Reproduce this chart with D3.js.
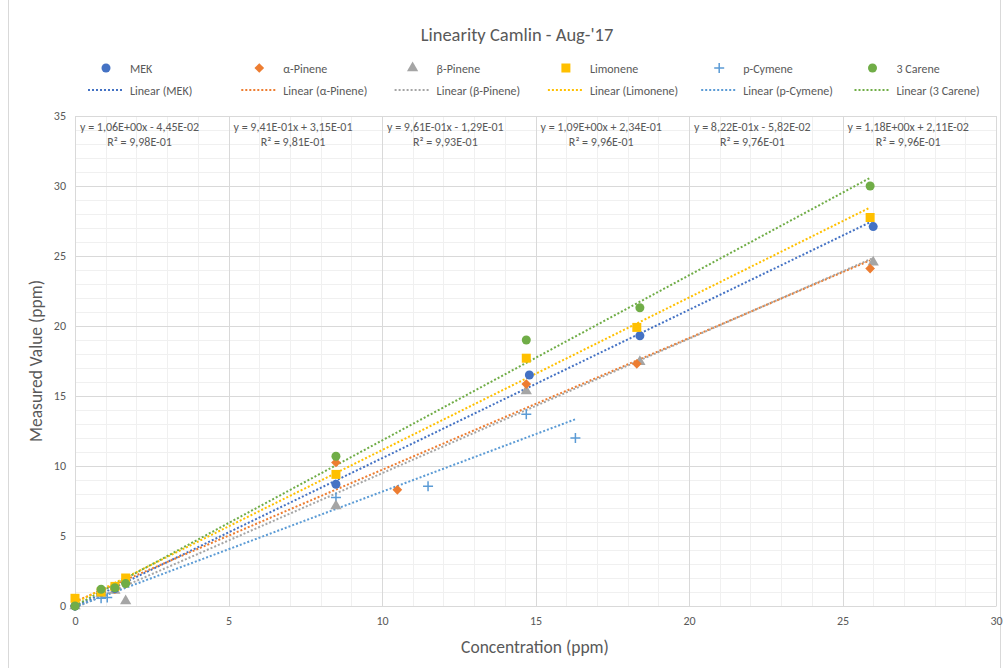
<!DOCTYPE html>
<html>
<head>
<meta charset="utf-8">
<script src="https://cdn.jsdelivr.net/npm/d3@7"></script>
<style>
  body { margin: 0; background: #fff; }
  text { font-family: Calibri, Carlito, "Liberation Sans Narrow", "Open Sans", sans-serif; fill: #595959; }
</style>
</head>
<body>
<div class="chart"></div>
<script>
// Series data
const seriesNames = ["MEK", "α-Pinene", "β-Pinene", "Limonene", "p-Cymene", "3 Carene"];
const seriesColors = ["#4472C4", "#ED7D31", "#A5A5A5", "#FFC000", "#5B9BD5", "#70AD47"];

const mekPoints = [[0, 0], [0.85, 1.0], [1.3, 1.25], [1.65, 1.7], [8.5, 8.7], [14.8, 16.5], [18.4, 19.3], [26.0, 27.1]];
const aPinenePoints = [[0, 0], [0.85, 1.05], [1.3, 1.2], [1.65, 1.6], [8.5, 10.25], [10.5, 8.3], [14.7, 15.85], [18.3, 17.3], [25.9, 24.1]];
const bPinenePoints = [[0, 0], [0.85, 0.9], [1.3, 1.1], [1.65, 0.35], [8.5, 7.15], [14.7, 15.35], [18.4, 17.45], [26.0, 24.55]];
const limonenePoints = [[0, 0.55], [0.85, 1.0], [1.3, 1.4], [1.65, 2.0], [8.5, 9.4], [14.7, 17.7], [18.3, 19.9], [25.9, 27.75]];
const pCymenePoints = [[0, 0], [0.85, 0.55], [1.05, 0.6], [8.5, 7.75], [11.5, 8.55], [14.7, 13.7], [16.3, 12.0]];
const careneePoints = [[0, 0], [0.85, 1.2], [1.3, 1.3], [1.65, 1.6], [8.5, 10.7], [14.7, 19.0], [18.4, 21.3], [25.9, 30.0]];
const allPoints = [mekPoints, aPinenePoints, bPinenePoints, limonenePoints, pCymenePoints, careneePoints];

// Trendline coefficients as printed on the chart
const slopes = [1.06, 0.941, 0.961, 1.09, 0.822, 1.18];
const intercepts = [-0.0445, 0.315, -0.129, 0.234, -0.0582, 0.0211];
const equationLabels = [
  "y = 1,06E+00x - 4,45E-02", "y = 9,41E-01x + 3,15E-01", "y = 9,61E-01x - 1,29E-01",
  "y = 1,09E+00x + 2,34E-01", "y = 8,22E-01x - 5,82E-02", "y = 1,18E+00x + 2,11E-02"
];
const r2Labels = ["R² = 9,98E-01", "R² = 9,81E-01", "R² = 9,93E-01", "R² = 9,96E-01", "R² = 9,76E-01", "R² = 9,96E-01"];

const xTicks = [0, 5, 10, 15, 20, 25, 30];
const yTicks = [0, 5, 10, 15, 20, 25, 30, 35];

const W = 1004, H = 668;
const plot = { left: 75, right: 996, top: 116, bottom: 606 };

const svg = d3.select(".chart").append("svg").attr("width", W).attr("height", H);

// chart area border
svg.append("rect")
  .attr("x", 8.5).attr("y", -2).attr("width", 992).attr("height", H + 4)
  .attr("fill", "none").attr("stroke", "#d9d9d9");

const xScale = d3.scaleLinear().domain([0, 30]).range([plot.left, plot.right]);
const yScale = d3.scaleLinear().domain([0, 35]).range([plot.bottom, plot.top]);

// minor gridlines
const grid = svg.append("g");
grid.selectAll(".vminor").data(d3.range(0, 31)).enter().append("line")
  .attr("x1", (d) => Math.round(xScale(d)) + 0.5).attr("x2", (d) => Math.round(xScale(d)) + 0.5)
  .attr("y1", plot.top).attr("y2", plot.bottom)
  .attr("stroke", "#f0f0f0");
grid.selectAll(".hminor").data(d3.range(0, 36)).enter().append("line")
  .attr("y1", (d) => Math.round(yScale(d)) + 0.5).attr("y2", (d) => Math.round(yScale(d)) + 0.5)
  .attr("x1", plot.left).attr("x2", plot.right)
  .attr("stroke", "#f0f0f0");
// major gridlines
grid.selectAll(".vmajor").data(xTicks).enter().append("line")
  .attr("x1", (d) => Math.round(xScale(d)) + 0.5).attr("x2", (d) => Math.round(xScale(d)) + 0.5)
  .attr("y1", plot.top).attr("y2", plot.bottom)
  .attr("stroke", "#d9d9d9");
grid.selectAll(".hmajor").data(yTicks).enter().append("line")
  .attr("y1", (d) => Math.round(yScale(d)) + 0.5).attr("y2", (d) => Math.round(yScale(d)) + 0.5)
  .attr("x1", plot.left).attr("x2", plot.right)
  .attr("stroke", "#d9d9d9");

// axes
const xAxis = d3.axisBottom(xScale).tickValues(xTicks).tickSize(0).tickPadding(10);
const yAxis = d3.axisLeft(yScale).tickValues(yTicks).tickSize(0).tickPadding(9);
const xAxisG = svg.append("g").attr("transform", `translate(0,${plot.bottom})`).call(xAxis);
const yAxisG = svg.append("g").attr("transform", `translate(${plot.left},0)`).call(yAxis);
xAxisG.select(".domain").attr("stroke", "#d9d9d9");
yAxisG.select(".domain").remove();
svg.selectAll(".tick text").attr("font-size", 12).attr("fill", "#595959")
  .style("font-family", "Calibri, Carlito, 'Liberation Sans Narrow', 'Open Sans', sans-serif");

// trendlines
const line = d3.line().x((d) => xScale(d[0])).y((d) => yScale(d[1]));
allPoints.forEach((pts, i) => {
  const ext = d3.extent(pts, (d) => d[0]);
  const seg = ext.map((x) => [x, slopes[i] * x + intercepts[i]]);
  svg.append("path")
    .attr("d", line(seg))
    .attr("fill", "none")
    .attr("stroke", seriesColors[i])
    .attr("stroke-width", 2)
    .attr("stroke-dasharray", "2,2");
});

// markers
function drawMarker(g, kind, x, y, color) {
  if (kind === 0 || kind === 5) {
    g.append("circle").attr("cx", x).attr("cy", y).attr("r", 4.5).attr("fill", color);
  } else if (kind === 1) {
    g.append("path").attr("d", d3.symbol(d3.symbolDiamond2, 60)())
      .attr("transform", `translate(${x},${y})`).attr("fill", color);
  } else if (kind === 2) {
    g.append("path").attr("d", d3.symbol(d3.symbolTriangle, 55)())
      .attr("transform", `translate(${x},${y})`).attr("fill", color);
  } else if (kind === 3) {
    g.append("rect").attr("x", x - 4.5).attr("y", y - 4.5).attr("width", 9).attr("height", 9).attr("fill", color);
  } else if (kind === 4) {
    g.append("path").attr("d", `M${x - 5},${y}H${x + 5}M${x},${y - 5}V${y + 5}`)
      .attr("stroke", color).attr("stroke-width", 1.5).attr("fill", "none");
  }
}

const order = [4, 2, 1, 0, 3, 5];
const marks = svg.append("g");
order.forEach((i) => {
  allPoints[i].forEach((d) => drawMarker(marks, i, xScale(d[0]), yScale(d[1]), seriesColors[i]));
});

// equation labels, one per 5-unit column
const eq = svg.append("g");
equationLabels.forEach((t, i) => {
  const x0 = xScale(i * 5) + 5;
  const txt = eq.append("text").attr("x", x0).attr("y", 131).attr("font-size", 12).text(t);
  const w = txt.node().getComputedTextLength();
  eq.append("text").attr("x", x0 + w / 2).attr("y", 146).attr("font-size", 12)
    .attr("text-anchor", "middle").text(r2Labels[i]);
});

// title
svg.append("text").attr("x", 517).attr("y", 41).attr("text-anchor", "middle")
  .attr("font-size", 18.5).text("Linearity Camlin - Aug-'17");

// legend
const legend = svg.append("g");
seriesNames.forEach((name, i) => {
  const tx = 130 + i * 153.3;
  drawMarker(legend, i, tx - 24, 68, seriesColors[i]);
  legend.append("text").attr("x", tx).attr("y", 72.5).attr("font-size", 12).text(name);
  legend.append("line").attr("x1", tx - 42).attr("x2", tx - 6).attr("y1", 90).attr("y2", 90)
    .attr("stroke", seriesColors[i]).attr("stroke-width", 2).attr("stroke-dasharray", "2,2");
  legend.append("text").attr("x", tx).attr("y", 94.5).attr("font-size", 12).text("Linear (" + name + ")");
});

// axis titles
svg.append("text").attr("x", 535).attr("y", 653).attr("text-anchor", "middle")
  .attr("font-size", 17.5).text("Concentration (ppm)");
svg.append("text").attr("transform", "translate(42,361) rotate(-90)").attr("text-anchor", "middle")
  .attr("font-size", 17.5).text("Measured Value (ppm)");
</script>
</body>
</html>
